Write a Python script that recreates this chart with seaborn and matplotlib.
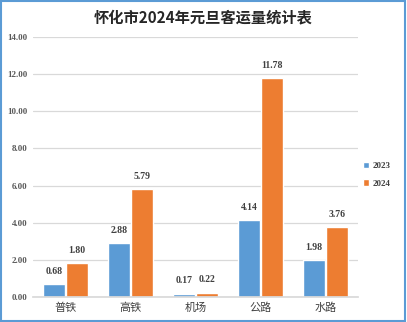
import matplotlib
matplotlib.use("Agg")
import matplotlib.pyplot as plt
import seaborn as sns
import pandas as pd
from matplotlib.patches import Rectangle

categories = ["普铁", "高铁", "机场", "公路", "水路"]
years = ["2023", "2024"]
values_2023 = [0.68, 2.88, 0.17, 4.14, 1.98]
values_2024 = [1.80, 5.79, 0.22, 11.78, 3.76]
y_ticks = [0, 2, 4, 6, 8, 10, 12, 14]
title = "怀化市2024年元旦客运量统计表"

df = pd.DataFrame({
    "cat": categories * 2,
    "year": [years[0]] * 5 + [years[1]] * 5,
    "val": values_2023 + values_2024,
})

sns.set_theme(style="white")
plt.rcParams["font.family"] = ["Liberation Serif", "Noto Sans CJK SC", "DejaVu Sans"]

fig = plt.figure(figsize=(4.07, 3.22), dpi=100)
ax = fig.add_axes([0.081, 0.078, 0.799, 0.807])

palette = {"2023": "#5b9bd5", "2024": "#ed7d31"}
sns.barplot(data=df, x="cat", y="val", hue="year", order=categories,
            hue_order=years, palette=palette, width=0.72, gap=0.06,
            ax=ax, saturation=1, legend=True)

for c in ax.containers:
    ax.bar_label(c, fmt="%.2f", padding=6, fontsize=7, fontweight="bold",
                 color="#404040", family="Liberation Serif")

ax.set_ylim(0, 14)
ax.set_yticks(y_ticks)
ax.set_yticklabels([f"{v:.2f}" for v in y_ticks], fontsize=6.5,
                   fontweight="bold", color="#595959", family="Liberation Serif")
ax.set_xticks(range(len(categories)))
ax.set_xticklabels(categories, fontsize=8, color="#404040",
                   family=["Noto Sans CJK SC", "DejaVu Sans"])
ax.set_xlim(-0.5, 4.5)
ax.set_xlabel("")
ax.set_ylabel("")
ax.yaxis.grid(True, color="#d9d9d9", linewidth=0.9)
ax.set_axisbelow(True)
for s in ["top", "right", "left"]:
    ax.spines[s].set_visible(False)
ax.spines["bottom"].set_color("#d9d9d9")
ax.tick_params(axis="both", length=0, pad=4)

leg = ax.legend(loc="center left", bbox_to_anchor=(0.99, 0.47), frameon=False,
                fontsize=6.5, handlelength=0.7, handleheight=0.7,
                handletextpad=0.4, labelspacing=1.0)
for t in leg.get_texts():
    t.set_fontweight("bold")
    t.set_color("#404040")

fig.text(0.5, 0.945, title, ha="center", va="center", fontsize=11,
         fontweight="bold", color="#262626",
         family=["Noto Sans CJK SC", "DejaVu Sans"])

fig.patches.append(Rectangle((0.002, 0.004), 0.994, 0.994, transform=fig.transFigure,
                             fill=False, edgecolor="#5b9bd5", linewidth=1.5))

fig.savefig("out.png", dpi=100)
